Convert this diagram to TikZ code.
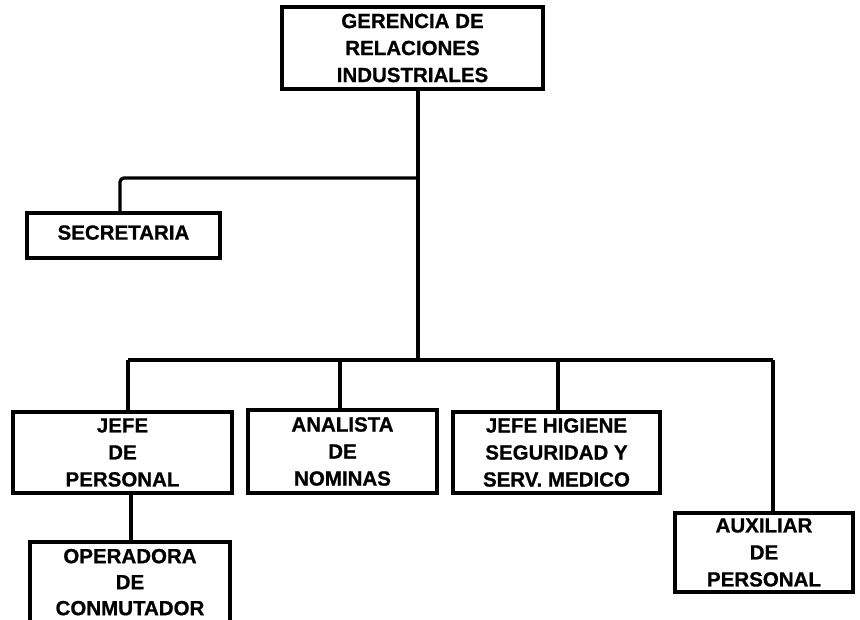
\documentclass[tikz,border=0pt]{standalone}
\usepackage{fontspec}
\setmainfont{Liberation Sans}[BoldFeatures={FakeBold=0.8}]
\begin{document}
\begin{tikzpicture}[x=1pt,y=-1pt,
  unit/.style={draw, line width=3.8pt, rectangle, inner sep=0pt, align=center,
    font=\bfseries\fontsize{20.5}{27}\selectfont},
  link/.style={line width=3.3pt, line join=miter}]
\useasboundingbox (0,0) rectangle (860,619);

% positions of the units
\node[unit, minimum width=261, minimum height=82] (ger) at (412.5,48) {GERENCIA DE\\RELACIONES\\INDUSTRIALES};
\node[unit, minimum width=193, minimum height=45] (sec) at (123.5,235.5) {\raisebox{6pt}{SECRETARIA}};
\node[unit, minimum width=219, minimum height=81] (jefe) at (122.5,452.5) {JEFE\\DE\\PERSONAL};
\node[unit, minimum width=189, minimum height=83] (anal) at (342.5,451.5) {ANALISTA\\DE\\NOMINAS};
\node[unit, minimum width=207, minimum height=81] (hig) at (556.5,452.5) {JEFE HIGIENE\\SEGURIDAD Y\\SERV. MEDICO};
\node[unit, minimum width=178, minimum height=79] (aux) at (764,552.5) {AUXILIAR\\DE\\PERSONAL};
% this box runs past the lower edge of the page
\node[unit, minimum width=200, minimum height=84, font=\bfseries\fontsize{20.5}{26}\selectfont] (op) at (130,584) {\raisebox{4pt}{\begin{tabular}{@{}c@{}}OPERADORA\\DE\\CONMUTADOR\end{tabular}}};

% branching points of the lines
\coordinate (secturn) at (418,178);
\coordinate (bus) at (418,360);
\coordinate (busL) at (128,360);
\coordinate (busA) at (340,360);
\coordinate (busH) at (558,360);
\coordinate (busR) at (773,360);
\coordinate (secdrop) at (120,178);
\coordinate (opdrop) at (131,0);

% connectors
\draw[link] (ger.south -| bus) -- (bus);
\draw[link, rounded corners=4pt] (secturn) -- (secdrop) -- (sec.north -| secdrop);
\draw[link] (busL) -- (busR);
\draw[link] (busL) -- (jefe.north -| busL);
\draw[link] (busA) -- (anal.north -| busA);
\draw[link] (busH) -- (hig.north -| busH);
\draw[link] (busR) -- (aux.north -| busR);
\draw[link] (jefe.south -| opdrop) -- (op.north -| opdrop);
\end{tikzpicture}
\end{document}
